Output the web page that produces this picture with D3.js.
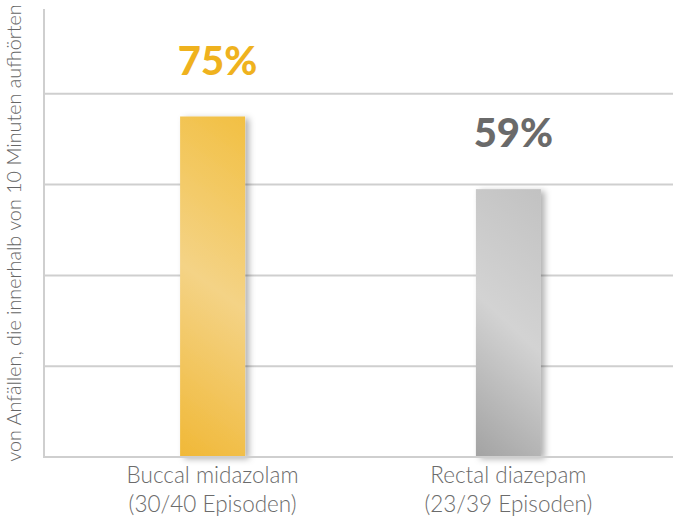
<!DOCTYPE html>
<html>
<head>
<meta charset="utf-8">
<script src="https://cdn.jsdelivr.net/npm/d3@7"></script>
<style>
  body { margin: 0; background: #fff; }
  svg { display: block; font-family: Lato, "Open Sans", sans-serif; }
</style>
</head>
<body>
<div id="chart"></div>
<script>
// data
var categories = ["Buccal midazolam", "Rectal diazepam"];
var subLabels = ["(30/40 Episoden)", "(23/39 Episoden)"];
var values = [75, 59];
var valueLabels = ["75%", "59%"];
var gridTicks = [20, 40, 60, 80];
var yTitle = "von Anfällen, die innerhalb von 10 Minuten aufhörten";

var svgWidth = 673, svgHeight = 520;
var marginLeft = 44, baseline = 457, plotTop = 3, axisTop = 9;

var svg = d3.select("#chart").append("svg")
    .attr("width", svgWidth)
    .attr("height", svgHeight);

var defs = svg.append("defs");

var yScale = d3.scaleLinear().domain([0, 100]).range([baseline, plotTop]);
var xScale = d3.scalePoint().domain(categories).range([marginLeft, 677]).padding(0.57);

var barW = 65;
var stops = [
  ["#f1b92c", "#f4d386", "#efaf1c"],
  ["#b9b9b9", "#d3d3d3", "#8a8a8a"]
];
var labelColors = ["#efb21e", "#6a6a6a"];

// one gradient per bar, in user space: top-right -> bottom-left, light in the middle
values.forEach(function(v, i) {
  var x0 = xScale(categories[i]) - barW / 2;
  var g = defs.append("linearGradient").attr("id", "g" + i)
      .attr("gradientUnits", "userSpaceOnUse")
      .attr("x1", x0 + barW + 90).attr("y1", yScale(v))
      .attr("x2", x0 - 90).attr("y2", baseline);
  g.append("stop").attr("offset", "0%").attr("stop-color", stops[i][0]);
  g.append("stop").attr("offset", "50%").attr("stop-color", stops[i][1]);
  g.append("stop").attr("offset", "100%").attr("stop-color", stops[i][2]);
});

var shadow = defs.append("filter").attr("id", "shadow")
    .attr("x", "-30%").attr("y", "-10%").attr("width", "160%").attr("height", "120%");
shadow.append("feDropShadow")
    .attr("dx", 4).attr("dy", 2).attr("stdDeviation", 3)
    .attr("flood-color", "#000").attr("flood-opacity", 0.3);

// gridlines
svg.selectAll("line.grid")
  .data(gridTicks)
  .enter()
  .append("line")
  .attr("class", "grid")
  .attr("x1", marginLeft).attr("x2", svgWidth)
  .attr("y1", d => yScale(d)).attr("y2", d => yScale(d))
  .attr("stroke", "#cfcfcf").attr("stroke-width", 2);

// bars
svg.selectAll("rect.bar")
  .data(values)
  .enter()
  .append("rect")
  .attr("class", "bar")
  .attr("x", (d, i) => xScale(categories[i]) - barW / 2)
  .attr("y", d => yScale(d))
  .attr("width", barW)
  .attr("height", d => baseline - yScale(d))
  .attr("fill", (d, i) => "url(#g" + i + ")")
  .attr("filter", "url(#shadow)");

// axis + baseline
svg.append("line")
  .attr("x1", marginLeft).attr("x2", svgWidth)
  .attr("y1", baseline).attr("y2", baseline)
  .attr("stroke", "#cfcfcf").attr("stroke-width", 2);
svg.append("line")
  .attr("x1", marginLeft).attr("x2", marginLeft)
  .attr("y1", axisTop).attr("y2", baseline + 1)
  .attr("stroke", "#cfcfcf").attr("stroke-width", 2);

// value labels
svg.selectAll("text.val")
  .data(values)
  .enter()
  .append("text")
  .attr("class", "val")
  .attr("x", (d, i) => xScale(categories[i]) + 5)
  .attr("y", d => yScale(d) - 42)
  .attr("text-anchor", "middle")
  .attr("font-size", 40)
  .attr("font-weight", 900)
  .attr("fill", (d, i) => labelColors[i])
  .text((d, i) => valueLabels[i]);

// category labels
var cat = svg.selectAll("text.cat")
  .data(categories)
  .enter()
  .append("text")
  .attr("class", "cat")
  .attr("text-anchor", "middle")
  .attr("font-size", 22.5)
  .attr("font-weight", 300)
  .attr("fill", "#6b6b6b");
cat.append("tspan").attr("x", d => xScale(d)).attr("y", 483).text(d => d);
cat.append("tspan").attr("x", d => xScale(d)).attr("y", 512).text((d, i) => subLabels[i]);

// y title
svg.append("text")
  .attr("transform", "translate(21," + 233 + ") rotate(-90)")
  .attr("text-anchor", "middle")
  .attr("font-size", 19.8)
  .attr("font-weight", 300)
  .attr("fill", "#666")
  .text(yTitle);
</script>
</body>
</html>
